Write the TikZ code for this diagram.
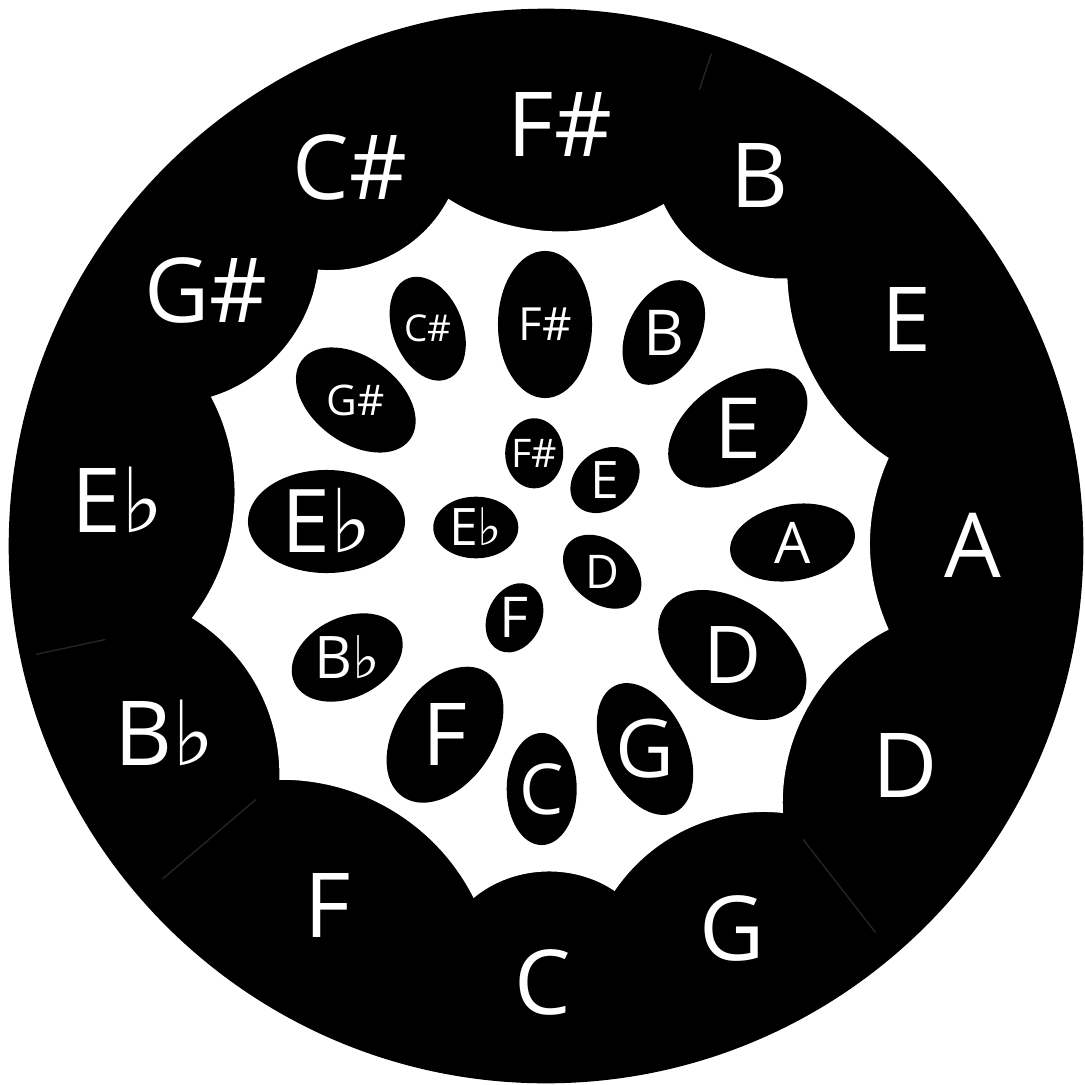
\documentclass[tikz,border=0pt]{standalone}
\usepackage{fontspec}
\setmainfont{Open Sans}
\newfontfamily\symfont{DejaVu Sans}
\usetikzlibrary{shapes.geometric}
\newcommand\myflat{\smash{{\symfont\char"266D}}}
\begin{document}
\begin{tikzpicture}[x=0.01cm,y=-0.01cm,
  fs/.style={font=\fontsize{#1}{#1}\selectfont},
  outerlbl/.style={text=white, inner sep=0pt, fs=25.5},
  lbl/.style={text=white, inner sep=0pt},
  ov/.style={ellipse, fill=black, draw=none, inner sep=0pt},
  lobe/.style={bend left=#1, looseness=0.92},
  seam/.style={draw=black!86, line width=0.4pt}
]
\fill[white] (0,0) rectangle (1084,1085);
\useasboundingbox (0,0) rectangle (1084,1085);

% outer black disc
\node[circle, fill=black, minimum size=10.74cm, inner sep=0pt] (disc) at (546,546) {};

% faint seams
\draw[seam] (711.4,53.6) -- (699.3,89.9);
\draw[seam] (36.3,654.3) -- (105.4,639.5);
\draw[seam] (162.5,879) -- (255.8,799.5);
\draw[seam] (803,839.3) -- (875.6,932.6);

% cusps of the white scalloped centre
\coordinate (c1) at (448.3,198.8);
\coordinate (c2) at (318,269.6);
\coordinate (c3) at (210.9,396.8);
\coordinate (c4) at (191.8,618);
\coordinate (c5) at (279.3,779.8);
\coordinate (c6) at (473.6,898);
\coordinate (c7) at (614.6,891);
\coordinate (c8) at (783,813);
\coordinate (c9) at (888.7,629.5);
\coordinate (c10) at (888.7,458);
\coordinate (c11) at (787.4,278.3);
\coordinate (c12) at (663.7,204);

\fill[white] (c1) to[lobe=34] (c2) to[lobe=33] (c3) to[lobe=33] (c4)
  to[lobe=30] (c5) to[lobe=32] (c6) to[lobe=37] (c7) to[lobe=31] (c8)
  to[lobe=33] (c9) to[lobe=24] (c10) to[lobe=27] (c11) to[lobe=34] (c12)
  to[lobe=31] (c1) -- cycle;

% outer labels
\node[outerlbl] (oFs) at (560,124) {F\#};
\node[outerlbl] (oB)  at (760,175) {B};
\node[outerlbl] (oE)  at (906,319) {E};
\node[outerlbl] (oA)  at (973,545) {A};
\node[outerlbl] (oD)  at (905,765) {D};
\node[outerlbl] (oG)  at (732,928) {G};
\node[outerlbl] (oC)  at (543,982) {C};
\node[outerlbl] (oF)  at (328,905) {F};
\node[outerlbl] (oBb) at (165,733) {B\myflat};
\node[outerlbl] (oEb) at (118,500) {E\myflat};
\node[outerlbl] (oGs) at (206,290) {G\#};
\node[outerlbl] (oCs) at (350,167) {C\#};

% middle ring ellipses
\node[ov, minimum width=1.47cm, minimum height=0.94cm, rotate=90]   (mFs) at (545,324.5) {};
\node[ov, minimum width=1.12cm, minimum height=0.72cm, rotate=62]   (mB)  at (663.8,332.5) {};
\node[ov, minimum width=1.56cm, minimum height=0.96cm, rotate=35]   (mE)  at (737.8,428) {};
\node[ov, minimum width=1.26cm, minimum height=0.76cm, rotate=10]   (mA)  at (792.5,542.5) {};
\node[ov, minimum width=1.66cm, minimum height=1.06cm, rotate=-36]  (mD)  at (732.3,655) {};
\node[ov, minimum width=1.40cm, minimum height=0.84cm, rotate=-65]  (mG)  at (645,749) {};
\node[ov, minimum width=1.12cm, minimum height=0.70cm, rotate=90]   (mC)  at (541.7,789) {};
\node[ov, minimum width=1.50cm, minimum height=0.98cm, rotate=56]   (mF)  at (445,734.7) {};
\node[ov, minimum width=1.17cm, minimum height=0.80cm, rotate=26]   (mBb) at (347.2,657.5) {};
\node[ov, minimum width=1.57cm, minimum height=1.03cm, rotate=0]    (mEb) at (326.5,521.5) {};
\node[ov, minimum width=1.34cm, minimum height=0.86cm, rotate=-36]  (mGs) at (355.8,400) {};
\node[ov, minimum width=1.08cm, minimum height=0.70cm, rotate=-68.6] (mCs) at (427.7,328.7) {};

\node[lbl, fs=13]   at (mFs) {F\#};
\node[lbl, fs=18]   at (mB)  {B};
\node[lbl, fs=24]   at (mE)  {E};
\node[lbl, fs=16.3] at (mA)  {A};
\node[lbl, fs=22.7] at (mD)  {D};
\node[lbl, fs=23]   at (mG)  {G};
\node[lbl, fs=20]   at (mC)  {C};
\node[lbl, fs=24.7] at (mF)  {F};
\node[lbl, fs=16.7] at (mBb) {B\myflat};
\node[lbl, fs=25]   at (mEb) {E\myflat};
\node[lbl, fs=12]   at (mGs) {G\#};
\node[lbl, fs=10.5] at (mCs) {C\#};

% inner ring ellipses
\node[ov, minimum width=0.70cm, minimum height=0.58cm, rotate=90]  (iFs) at (534.2,453.3) {};
\node[ov, minimum width=0.76cm, minimum height=0.58cm, rotate=40]  (iE)  at (605,480) {};
\node[ov, minimum width=0.88cm, minimum height=0.62cm, rotate=-40] (iD)  at (602.2,571.7) {};
\node[ov, minimum width=0.72cm, minimum height=0.54cm, rotate=65]  (iF)  at (514.5,617.8) {};
\node[ov, minimum width=0.85cm, minimum height=0.616cm, rotate=0]  (iEb) at (475.8,527.5) {};

\node[lbl, fs=11.2] at (iFs) {F\#};
\node[lbl, fs=14.7] at (iE)  {E};
\node[lbl, fs=13.2] at (iD)  {D};
\node[lbl, fs=16]   at (iF)  {F};
\node[lbl, fs=14.7] at (iEb) {E\myflat};
\end{tikzpicture}
\end{document}
